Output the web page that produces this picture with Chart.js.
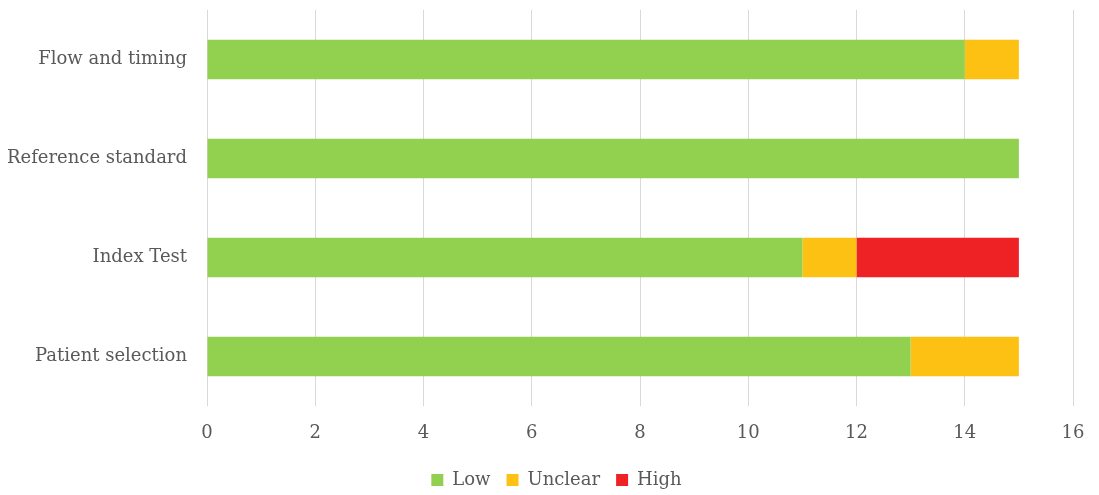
<!DOCTYPE html>
<html><head><meta charset="utf-8">
<script src="https://cdn.jsdelivr.net/npm/chart.js@4/dist/chart.umd.min.js"></script>
<style>html,body{margin:0;padding:0;background:#fff}#wrap{width:1099px;height:495px}</style>
</head><body><div id="wrap"><canvas id="c" width="1099" height="495"></canvas></div>
<script>
const categories = ["Flow and timing", "Reference standard", "Index Test", "Patient selection"];
const lowValues = [14, 15, 11, 13];
const unclearValues = [1, 0, 1, 2];
const highValues = [0, 0, 3, 0];
const seriesNames = ["Low", "Unclear", "High"];
const xTicks = [0, 2, 4, 6, 8, 10, 12, 14, 16];

const FONT = "'DejaVu Serif', 'Liberation Serif', serif";
Chart.defaults.font.family = FONT;
Chart.defaults.color = '#595959';

const legendShift = {
  id: 'legendShift',
  afterLayout(chart) {
    if (chart.legend) { chart.legend.left += 20; chart.legend.right += 20; }
  }
};

new Chart(document.getElementById('c'), {
  type: 'bar',
  data: {
    labels: categories,
    datasets: [
      {label: seriesNames[0], data: lowValues, backgroundColor: '#92D050'},
      {label: seriesNames[1], data: unclearValues, backgroundColor: '#FDC113'},
      {label: seriesNames[2], data: highValues, backgroundColor: '#EE2224'}
    ]
  },
  plugins: [legendShift],
  options: {
    indexAxis: 'y',
    responsive: false,
    animation: false,
    layout: {padding: {top: 10, right: 26, left: 0, bottom: -4}},
    datasets: {bar: {categoryPercentage: 1, barPercentage: 0.4}},
    scales: {
      x: {
        stacked: true, min: 0, max: 16,
        afterBuildTicks: s => { s.ticks = xTicks.map(v => ({value: v})); },
        grid: {color: '#D9D9D9', drawTicks: false, lineWidth: 1},
        border: {display: false},
        ticks: {padding: 17, font: {size: 18}, color: '#595959'},
        afterFit: s => { s.height = 49; s.paddingLeft = 0; s.paddingRight = 0; }
      },
      y: {
        stacked: true,
        grid: {display: false, drawTicks: false},
        border: {display: false},
        ticks: {padding: 20, font: {size: 18}, color: '#595959'},
        afterFit: s => { s.width = 207; s.paddingTop = 0; s.paddingBottom = 0; }
      }
    },
    plugins: {
      legend: {
        position: 'bottom',
        labels: {boxWidth: 12, boxHeight: 12, padding: 16, font: {size: 18}, color: '#595959'}
      },
      tooltip: {enabled: false}
    }
  }
});
</script></body></html>
